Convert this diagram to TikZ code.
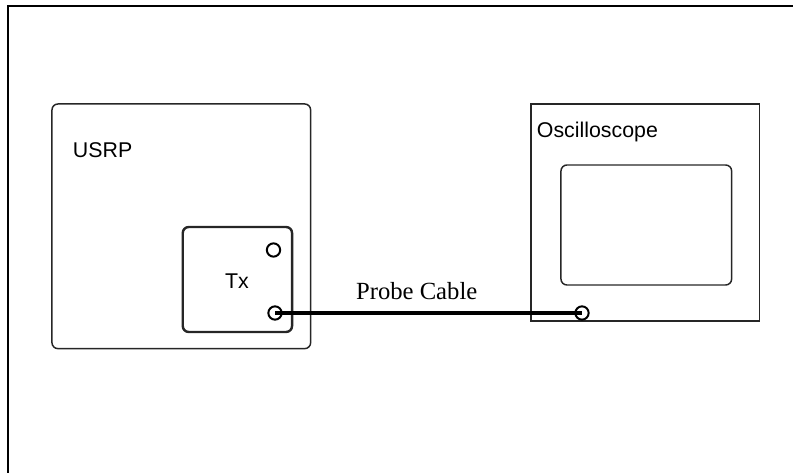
\documentclass[tikz,border=0pt]{standalone}
\usepackage{fontspec}
\setmainfont{Liberation Serif}
\newfontfamily\arialfont{Liberation Sans}
\begin{document}
\begin{tikzpicture}[x=0.75pt,y=-0.75pt,
  box/.style={draw=black!85, line width=1.1pt, inner sep=0pt},
  port/.style={circle, draw=black, line width=1.5pt, minimum size=10pt, inner sep=0pt},
  lbl/.style={font=\arialfont\fontsize{16pt}{19pt}\selectfont, inner sep=0pt},
  cable/.style={line width=3.6pt, black}]
\useasboundingbox (0,0) rectangle (793,473);
% outer frame (only top and left edges visible)
\coordinate (ftl) at (8,6);
\coordinate (ftr) at (793,6);
\coordinate (fbl) at (8,473);
\draw[line width=1.1pt] (ftr) -- (ftl) -- (fbl);
% USRP
\node[box, rounded corners=4.5pt, minimum width=194pt, minimum height=183.5pt] (usrp) at (181.3,226.3) {};
\node[lbl, anchor=west] (usrplbl) at (72.7,150) {USRP};
\node[box, line width=1.8pt, rounded corners=4.5pt, minimum width=82pt, minimum height=78.75pt] (tx) at (237.4,279.5) {};
\node[lbl] (txlbl) at (237,281) {Tx};
\node[port] (txport1) at (273.5,250) {};
\node[port] (txport2) at (275,313) {};
% Oscilloscope
\node[box, minimum width=171.2pt, minimum height=162.75pt] (osc) at (645.2,212.5) {};
\node[lbl, anchor=west] (osclbl) at (536.7,131.7) {Oscilloscope};
\node[box, rounded corners=4.5pt, minimum width=128pt, minimum height=90pt] (screen) at (646.3,225) {};
\node[port] (oscport) at (582,313) {};
% cable
\draw[cable] (txport2.center) -- (oscport.center);
\node[font=\fontsize{18.5pt}{22pt}\selectfont, inner sep=0pt] (cablelbl) at (416.7,291) {Probe Cable};
\end{tikzpicture}
\end{document}
